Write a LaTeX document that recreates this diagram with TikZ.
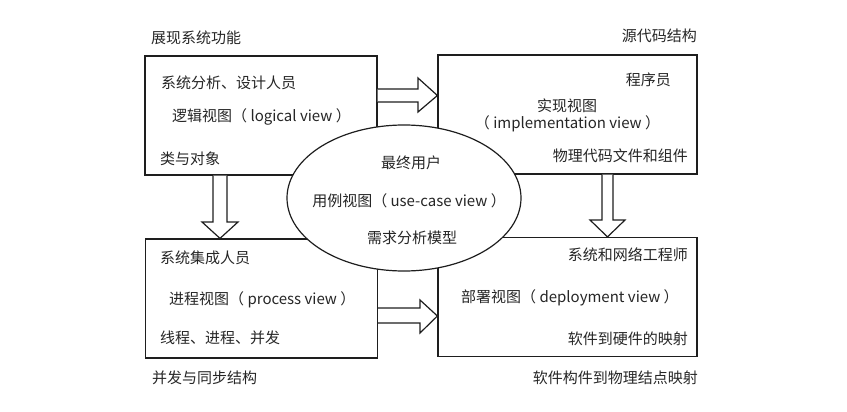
\documentclass[tikz,border=0pt]{standalone}
\usepackage{fontspec}
\setmainfont{Noto Sans CJK SC}
\usepackage{tikz}
\usetikzlibrary{
  calc,
  shapes.geometric
}
\definecolor{ViewInk}{HTML}{1E1E1E}
\definecolor{ViewText}{HTML}{262626}
\tikzset{
  every picture/.style = {line join=miter},
  every node/.style = {font=\fontsize{15}{18}\selectfont, text=ViewText, inner sep=0pt},
  view box/.style = {
    draw=ViewInk,
    fill=white,
    line width=1.2pt,
    minimum width=232pt,
    minimum height=119pt
  },
  view box wide/.style = {view box, minimum width=259pt},
  use oval/.style = {
    ellipse,
    draw=ViewInk,
    fill=white,
    line width=1.2pt,
    minimum width=234pt,
    minimum height=146pt
  },
  block arrow/.style = {draw=ViewInk, fill=white, line width=1.2pt},
  note/.style = {text=ViewText},
  caption/.style = {text=ViewText},
}

\begin{document}
\begin{tikzpicture}[x=1pt,y=-1pt]
  \useasboundingbox (0,0) rectangle (847,412);

  % the four views
  \node[view box] (lv) at (261,115.5) {};
  \node[view box wide] (iv) at (567.5,114.5) {};
  \node[view box] (pv) at (261.5,298.5) {};
  \node[view box wide] (dv) at (567.5,297) {};

  % block arrows between the views
  \draw[block arrow] (lv.east |- 0,89) -- (418,89) -- (418,78) -- (iv.west |- 0,95.5)
    -- (418,112) -- (418,102) -- (lv.east |- 0,102);
  \draw[block arrow] (pv.east |- 0,308) -- (420,308) -- (420,300) -- (dv.west |- 0,316)
    -- (420,333) -- (420,323) -- (pv.east |- 0,323);
  \draw[block arrow] (213,0 |- lv.south) -- (213,222) -- (202,222) -- (220,0 |- pv.north)
    -- (238,222) -- (227,222) -- (227,0 |- lv.south);
  \draw[block arrow] (602,0 |- iv.south) -- (602,220) -- (590,220) -- (607.5,0 |- dv.north)
    -- (625,220) -- (613,220) -- (613,0 |- iv.south);

  % use-case view on top
  \node[use oval] (uc) at (404,198) {};

  % captions outside the boxes
  \node[caption, anchor=west] (cap-lv) at (151,38) {展现系统功能};
  \node[caption, anchor=east] (cap-iv) at (697,36) {源代码结构};
  \node[caption, anchor=west] (cap-pv) at (152,378) {并发与同步结构};
  \node[caption, anchor=east] (cap-dv) at (698,378) {软件构件到物理结点映射};

  % logical view
  \node[note, anchor=west] (lv-who) at (161,83) {系统分析、设计人员};
  \node[note, anchor=west] (lv-name) at (172,117) {逻辑视图（ logical view ）};
  \node[note, anchor=west] (lv-what) at (160,159) {类与对象};

  % implementation view
  \node[note, anchor=east] (iv-who) at (671,80) {程序员};
  \node[note] (iv-name) at (567,106) {实现视图};
  \node[note] (iv-eng) at (567.5,124) {（ implementation view ）};
  \node[note, anchor=east] (iv-what) at (688,156) {物理代码文件和组件};

  % process view
  \node[note, anchor=west] (pv-who) at (160,258) {系统集成人员};
  \node[note, anchor=west] (pv-name) at (169,300) {进程视图（ process view ）};
  \node[note, anchor=west] (pv-what) at (160,338) {线程、进程、并发};

  % deployment view
  \node[note, anchor=east] (dv-who) at (688,255) {系统和网络工程师};
  \node[note, anchor=west] (dv-name) at (461,298) {部署视图（ deployment view ）};
  \node[note, anchor=east] (dv-what) at (688,339) {软件到硬件的映射};

  % use-case view
  \node[note] (uc-who) at (411,163) {最终用户};
  \node[note] (uc-name) at (409,201) {用例视图（ use-case view ）};
  \node[note] (uc-what) at (412,238) {需求分析模型};
\end{tikzpicture}
\end{document}
